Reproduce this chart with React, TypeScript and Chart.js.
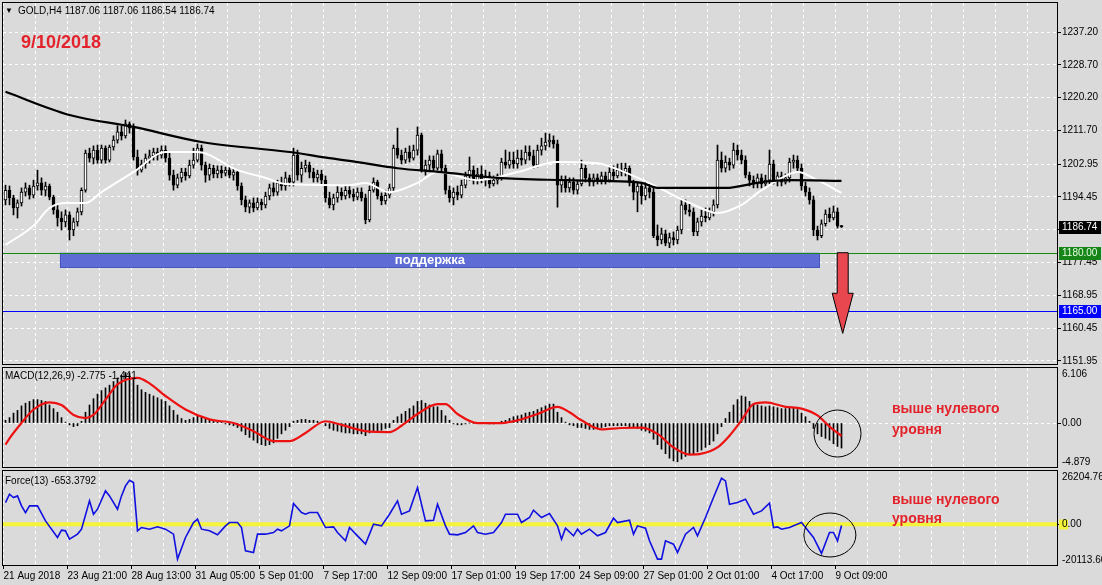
import React, { useEffect, useRef } from "react";
import { Chart, registerables } from "chart.js";

Chart.register(...registerables);

// ---------------- data ----------------
const SYMBOL = "GOLD,H4";
const LAST_OHLC = [1187.06, 1187.06, 1186.54, 1186.74];
const DATE_NOTE = "9/10/2018";
const NOTE_LINES = ["выше нулевого", "уровня"];
const SUPPORT_LABEL = "поддержка";

const TIME_LABELS = [
  "21 Aug 2018", "23 Aug 21:00", "28 Aug 13:00", "31 Aug 05:00", "5 Sep 01:00",
  "7 Sep 17:00", "12 Sep 09:00", "17 Sep 01:00", "19 Sep 17:00", "24 Sep 09:00",
  "27 Sep 01:00", "2 Oct 01:00", "4 Oct 17:00", "9 Oct 09:00",
];

const PRICE_TICKS = [1237.2, 1228.7, 1220.2, 1211.7, 1202.95, 1194.45, 1185.95, 1177.45, 1168.95, 1160.45, 1151.95];

const OPEN = [
  1193.7,1196.2,1194.2,1191.6,1192.9,1195.7,1196.8,1194.9,
  1197.3,1198.1,1196.2,1197.3,1194.4,1191.1,1189.0,1188.0,
  1189.8,1185.9,1188.0,1190.6,1196.2,1205.8,1204.5,1206.6,
  1204.0,1207.1,1204.0,1207.4,1209.2,1211.3,1210.3,1213.4,
  1212.3,1204.8,1201.4,1203.0,1204.5,1205.1,1206.1,1205.3,
  1206.6,1204.5,1200.1,1197.5,1199.4,1200.9,1199.9,1202.7,
  1204.0,1207.1,1202.7,1200.1,1201.9,1200.4,1201.4,1200.6,
  1201.4,1200.1,1200.9,1197.3,1193.7,1191.8,1192.9,1191.6,
  1193.1,1192.4,1194.7,1196.8,1195.7,1198.1,1197.3,1199.4,
  1198.3,1205.3,1200.1,1201.9,1202.7,1200.9,1199.4,1200.4,
  1198.8,1194.2,1192.4,1194.2,1195.7,1194.7,1196.2,1195.2,
  1194.4,1195.7,1194.2,1188.5,1196.2,1198.3,1194.7,1193.4,
  1194.9,1196.8,1207.1,1205.3,1204.0,1206.1,1204.5,1206.6,
  1210.5,1201.4,1202.7,1204.0,1201.9,1205.6,1201.9,1196.2,
  1194.2,1195.7,1194.9,1197.5,1199.9,1201.4,1198.8,1200.4,
  1198.8,1199.9,1197.8,1198.8,1199.9,1203.5,1202.7,1204.0,
  1203.0,1204.5,1204.0,1206.1,1205.1,1202.7,1206.6,1207.7,
  1208.7,1209.2,1208.2,1197.5,1198.8,1196.8,1198.3,1196.2,
  1197.8,1201.9,1199.4,1198.3,1199.4,1198.8,1199.9,1198.8,
  1200.9,1199.9,1201.4,1200.9,1201.9,1198.1,1195.7,1197.3,
  1194.7,1196.8,1195.7,1184.4,1183.3,1184.9,1182.5,1183.9,
  1183.3,1185.9,1192.4,1191.1,1190.6,1185.4,1188.0,1189.5,
  1189.0,1190.6,1192.4,1204.0,1201.9,1203.5,1202.7,1206.6,
  1205.3,1204.0,1200.1,1198.8,1197.8,1199.4,1197.8,1198.8,
  1203.0,1198.8,1199.9,1198.3,1199.4,1203.5,1204.0,1201.9,
  1197.3,1195.7,1193.7,1185.9,1184.4,1187.5,1190.0,1189.0,
  1190.6,1187.06,
];

const HIGH = [
  1197.5,1197.3,1194.9,1193.7,1196.8,1198.1,1197.5,1198.8,
  1201.4,1199.4,1198.3,1197.8,1194.9,1192.4,1190.6,1191.1,
  1190.6,1189.0,1191.6,1196.8,1206.6,1207.1,1207.7,1207.9,
  1207.9,1207.7,1207.9,1210.3,1212.9,1212.9,1214.4,1213.9,
  1213.4,1206.6,1204.0,1205.6,1206.6,1207.1,1207.1,1207.7,
  1207.7,1206.1,1201.4,1200.4,1201.9,1201.9,1204.0,1207.1,
  1208.2,1207.9,1203.5,1203.0,1202.7,1202.5,1202.5,1202.2,
  1202.5,1201.9,1201.4,1198.1,1194.7,1193.7,1194.2,1194.2,
  1193.9,1195.7,1197.8,1198.1,1198.8,1199.6,1200.9,1200.1,
  1207.1,1206.6,1203.5,1204.0,1203.5,1201.9,1201.4,1201.4,
  1199.9,1195.7,1195.2,1197.3,1196.8,1197.5,1197.3,1196.5,
  1196.8,1196.8,1195.2,1197.3,1199.4,1198.8,1195.5,1196.2,
  1197.8,1207.9,1212.3,1206.6,1207.1,1207.7,1207.9,1212.6,
  1211.0,1204.0,1205.1,1205.1,1206.6,1206.6,1202.7,1197.3,
  1196.8,1197.3,1198.8,1200.9,1204.8,1202.5,1201.9,1202.5,
  1201.4,1200.9,1199.9,1200.4,1204.5,1206.6,1206.1,1206.1,
  1206.6,1206.6,1207.7,1207.7,1206.6,1207.9,1209.7,1211.0,
  1210.8,1210.3,1209.2,1199.9,1199.9,1199.4,1199.4,1198.8,
  1204.0,1202.7,1200.4,1200.4,1200.4,1200.9,1200.9,1202.5,
  1202.5,1203.0,1203.2,1203.2,1202.5,1198.8,1198.3,1197.8,
  1198.3,1197.8,1196.8,1187.2,1186.4,1185.9,1185.1,1185.4,
  1186.9,1193.7,1193.7,1192.6,1191.6,1189.0,1191.1,1191.6,
  1191.6,1193.7,1207.9,1206.1,1205.1,1204.5,1208.4,1207.9,
  1206.6,1205.1,1200.9,1199.9,1200.4,1200.4,1200.1,1206.6,
  1204.0,1200.9,1200.9,1200.4,1204.5,1205.3,1205.1,1203.0,
  1198.3,1196.8,1194.7,1186.9,1188.5,1191.1,1191.6,1192.1,
  1191.6,1187.06,
];

const LOW = [
  1192.4,1192.4,1189.8,1189.0,1192.1,1194.7,1193.9,1194.2,
  1196.2,1194.9,1194.7,1193.7,1190.0,1186.9,1185.9,1186.7,
  1183.3,1184.4,1186.9,1189.8,1195.7,1203.5,1203.0,1203.2,
  1203.2,1203.2,1203.5,1206.6,1208.4,1209.2,1209.7,1211.0,
  1204.0,1200.1,1200.9,1201.9,1203.2,1204.0,1204.0,1204.5,
  1203.5,1198.8,1196.2,1196.8,1198.3,1198.8,1199.4,1201.9,
  1203.5,1201.4,1198.3,1198.8,1199.4,1199.4,1199.4,1199.9,
  1199.4,1198.8,1196.2,1192.4,1190.6,1190.3,1190.6,1191.1,
  1191.1,1191.6,1193.7,1194.7,1194.9,1196.2,1196.2,1197.3,
  1197.3,1198.8,1198.3,1200.9,1199.4,1198.3,1198.3,1197.8,
  1193.1,1191.6,1191.1,1193.1,1193.7,1193.9,1194.2,1193.4,
  1193.7,1193.4,1187.5,1188.0,1195.7,1193.9,1192.4,1192.6,
  1194.2,1195.7,1204.5,1203.0,1203.2,1203.5,1204.0,1205.3,
  1200.9,1200.1,1201.4,1200.9,1201.4,1200.9,1195.2,1193.1,
  1192.4,1193.7,1194.2,1196.8,1198.8,1197.8,1197.8,1198.1,
  1197.3,1196.8,1197.3,1197.8,1198.8,1201.9,1201.9,1201.9,
  1201.9,1202.7,1203.0,1204.0,1201.9,1202.2,1205.3,1206.6,
  1207.4,1207.1,1191.8,1195.7,1195.7,1195.7,1195.2,1195.2,
  1197.3,1198.3,1197.3,1197.3,1197.8,1197.8,1197.8,1198.3,
  1198.8,1199.4,1199.9,1199.9,1197.3,1193.7,1190.6,1192.6,
  1193.7,1194.2,1183.9,1181.8,1182.3,1181.8,1181.3,1182.0,
  1182.3,1184.9,1190.0,1189.5,1184.4,1184.4,1186.9,1188.0,
  1188.5,1189.5,1191.6,1200.9,1200.9,1201.4,1201.9,1204.0,
  1203.0,1199.4,1197.3,1196.8,1196.8,1196.8,1197.3,1197.8,
  1197.8,1197.3,1197.3,1197.8,1198.3,1201.9,1200.9,1196.2,
  1194.7,1192.6,1184.4,1183.3,1183.9,1186.9,1188.0,1188.5,
  1186.4,1186.54,
];

const CLOSE = [
  1196.2,1194.2,1191.6,1192.9,1195.7,1196.8,1194.9,1197.3,
  1198.1,1196.2,1197.3,1194.4,1191.1,1189.0,1188.0,1189.8,
  1185.9,1188.0,1190.6,1196.2,1205.8,1204.5,1206.6,1204.0,
  1207.1,1204.0,1207.4,1209.2,1211.3,1210.3,1213.4,1212.3,
  1204.8,1201.4,1203.0,1204.5,1205.1,1206.1,1205.3,1206.6,
  1204.5,1200.1,1197.5,1199.4,1200.9,1199.9,1202.7,1204.0,
  1207.1,1202.7,1200.1,1201.9,1200.4,1201.4,1200.6,1201.4,
  1200.1,1200.9,1197.3,1193.7,1191.8,1192.9,1191.6,1193.1,
  1192.4,1194.7,1196.8,1195.7,1198.1,1197.3,1199.4,1198.3,
  1205.3,1200.1,1201.9,1202.7,1200.9,1199.4,1200.4,1198.8,
  1194.2,1192.4,1194.2,1195.7,1194.7,1196.2,1195.2,1194.4,
  1195.7,1194.2,1188.5,1196.2,1198.3,1194.7,1193.4,1194.9,
  1196.8,1207.1,1205.3,1204.0,1206.1,1204.5,1206.6,1210.5,
  1201.4,1202.7,1204.0,1201.9,1205.6,1201.9,1196.2,1194.2,
  1195.7,1194.9,1197.5,1199.9,1201.4,1198.8,1200.4,1198.8,
  1199.9,1197.8,1198.8,1199.9,1203.5,1202.7,1204.0,1203.0,
  1204.5,1204.0,1206.1,1205.1,1202.7,1206.6,1207.7,1208.7,
  1209.2,1208.2,1197.5,1198.8,1196.8,1198.3,1196.2,1197.8,
  1201.9,1199.4,1198.3,1199.4,1198.8,1199.9,1198.8,1200.9,
  1199.9,1201.4,1200.9,1201.9,1198.1,1195.7,1197.3,1194.7,
  1196.8,1195.7,1184.4,1183.3,1184.9,1182.5,1183.9,1183.3,
  1185.9,1192.4,1191.1,1190.6,1185.4,1188.0,1189.5,1189.0,
  1190.6,1192.4,1204.0,1201.9,1203.5,1202.7,1206.6,1205.3,
  1204.0,1200.1,1198.8,1197.8,1199.4,1197.8,1198.8,1203.0,
  1198.8,1199.9,1198.3,1199.4,1203.5,1204.0,1201.9,1197.3,
  1195.7,1193.7,1185.9,1184.4,1187.5,1190.0,1189.0,1190.6,
  1186.9,1186.74,
];

// slow moving average (black) – bar index / value
const MA_SLOW_BARS = [0, 16, 32, 49, 71, 81, 86, 98, 109, 123, 140, 149, 159, 163, 180, 189, 196, 209];
const MA_SLOW = [1221.7, 1215.7, 1212.6, 1208.7, 1206.1, 1204.5, 1203.8, 1201.9, 1200.9, 1199.4, 1198.8, 1198.6, 1198.1, 1196.8, 1196.8, 1198.3, 1198.8, 1198.6];

// fast moving average (white)
const MA_FAST_BARS = [0, 7, 11, 15, 20, 24, 32, 40, 48, 58, 65, 70, 86, 90, 96, 103, 108, 118, 128, 138, 148, 154, 163, 171, 178, 184, 188, 191, 194, 198, 203, 209];
const MA_FAST = [1182.0, 1187.0, 1191.6, 1192.9, 1192.9, 1195.7, 1200.9, 1206.1, 1206.1, 1201.4, 1199.4, 1197.8, 1197.5, 1198.1, 1195.7, 1198.1, 1200.9, 1198.8, 1200.9, 1203.5, 1203.2, 1201.2, 1197.0, 1192.9, 1190.3, 1192.4, 1195.5, 1197.5, 1199.4, 1200.9, 1198.8, 1195.5];

// MACD(12,26,9) main values (histogram)
const MACD_HIST = [
  0.3,0.6,1.1,1.4,1.9,2.2,2.4,2.6,
  2.6,2.5,2.4,2.0,1.6,1.2,0.6,0.1,
  -0.2,-0.4,-0.3,0.2,1.2,2.0,2.7,3.2,
  3.6,3.9,4.2,4.6,5.0,5.3,5.6,5.5,
  4.9,4.2,3.7,3.4,3.2,3.0,2.8,2.6,
  2.4,1.9,1.4,0.9,0.5,0.3,0.4,0.6,
  0.8,0.7,0.5,0.3,0.2,0.1,0.1,-0.1,
  -0.2,-0.3,-0.5,-0.9,-1.3,-1.6,-1.9,-2.2,
  -2.4,-2.5,-2.4,-2.2,-1.7,-1.2,-0.8,-0.4,
  0.2,0.3,0.4,0.4,0.3,0.3,0.2,0.1,
  -0.3,-0.6,-0.8,-0.9,-1.0,-1.1,-1.1,-1.2,
  -1.2,-1.2,-1.4,-1.1,-0.9,-0.9,-0.8,-0.6,
  -0.5,0.3,0.7,1.0,1.3,1.6,1.9,2.4,
  2.5,2.2,2.0,1.8,1.8,1.4,0.8,0.3,
  -0.1,-0.2,-0.2,-0.1,0.0,-0.05,0.05,0.0,
  0.0,-0.1,-0.1,0.0,0.2,0.3,0.5,0.7,
  0.8,0.9,1.1,1.2,1.3,1.5,1.7,1.9,
  2.1,2.1,1.2,0.6,0.1,-0.2,-0.3,-0.5,
  -0.5,-0.6,-0.7,-0.7,-0.6,-0.5,-0.4,-0.3,
  -0.3,-0.3,-0.3,-0.3,-0.4,-0.5,-0.6,-0.8,
  -0.9,-1.1,-1.8,-2.4,-2.9,-3.4,-3.9,-4.2,
  -4.3,-4.0,-3.7,-3.5,-3.4,-3.2,-3.0,-2.7,
  -2.4,-2.0,-1.2,-0.4,0.5,1.2,2.0,2.6,
  3.0,2.9,2.4,2.1,2.0,1.9,1.8,1.9,
  1.8,1.7,1.6,1.6,1.7,1.7,1.5,1.1,
  0.7,0.2,-0.6,-1.2,-1.5,-1.7,-1.9,-2.3,
  -2.6,-2.775,
];

// MACD signal line
const SIGNAL_BARS = [0,1,4,7,11,14,17,20,22,25,28,33,36,40,45,51,57,62,67,71,75,80,84,90,96,99,103,108,110,113,118,124,128,133,138,141,144,149,154,159,163,167,171,174,178,181,184,187,190,195,199,203,206,209];
const SIGNAL = [-2.4,-1.7,0.0,1.5,2.3,2.0,0.9,0.55,0.9,2.6,4.3,5.0,4.4,3.0,1.5,0.4,0.0,-0.9,-2.0,-2.0,-1.1,0.2,-0.2,-0.9,-1.0,-0.3,1.0,2.1,2.1,1.0,0.0,0.0,0.3,1.0,1.8,1.2,0.3,-0.7,-0.55,-0.5,-1.2,-2.7,-3.5,-3.4,-2.7,-1.4,0.3,2.1,2.3,1.8,1.6,0.85,-0.4,-1.441];

// Force(13)
const FORCE_BARS = [
  0,1,2,3,4,5,6,8,10,13, 14,15,16,18,19,21,22,23,25,26,
  28,29,30,31,32,33,34,36,38,40, 42,43,45,47,48,49,51,53,55,56,
  58,59,60,62,63,65,67,68,69,71, 72,74,75,76,78,80,82,83,85,86,
  88,90,92,94,96,98,99,101,103,105, 107,108,110,111,113,115,117,118,120,122,
  124,125,128,129,131,132,134,136,138,139, 140,142,143,144,146,148,150,152,153,156,
  157,158,160,161,163,164,165,167,168,170, 172,173,175,177,179,180,181,183,185,187,
  189,191,192,193,194,196,197,199,200,202, 204,206,207,208,209,
];
const FORCE = [
  10660,14760,13100,13940,9000,5700,9000,9000,1640,-6560,
  -2950,-3280,-7380,-4900,-2460,11480,4900,7380,16400,13940,
  7380,13940,18860,21650,20500,-3280,-1640,-2460,-1310,-2460,
  -4920,-17220,-6560,820,2460,-2460,-3280,-5250,-820,820,
  820,-1640,-13120,-13940,-4920,-4920,-4100,-2460,-3280,-820,
  10170,5740,4920,5740,5740,-1640,-1310,-4100,-8200,-1640,
  -5740,-9840,0,-820,4920,11480,4920,6560,18040,1640,
  1970,9840,-820,-4920,-5250,-4100,-820,-4100,-4920,-4100,
  820,4920,4920,820,3280,6890,3280,5250,-820,-7380,
  -1970,-5740,-2460,-4920,-2460,-5740,-4100,2950,820,1970,
  -4920,-820,-1970,-8200,-17220,-17220,-8200,-9840,-13940,-4920,
  -1640,-5740,3280,13120,22630,21320,9840,10660,12300,4920,
  6560,10330,-1640,-1310,-2460,-1640,-820,820,-1640,-6560,
  -14430,-4100,-4100,-8200,-653.3792,
];

const MACD_RANGE = [-4.879, 6.106];
const FORCE_RANGE = [-20113.6, 26204.76];
const PRICE_RANGE = [1151.167, 1244.715];
const LAST_PRICE = 1186.74;
const SUPPORT_LEVEL = 1180.0;
const TARGET_LEVEL = 1165.0;
const SUPPORT_ZONE = { fromBar: 13.6, toBar: 203.4, top: 1180.0, bottom: 1176.3, textBar: 106.1, textPrice: 1178.1 };
const ARROW = { bar: 209.3, top: 1180.0, neck: 1169.5, tip: 1159.1 };
const MACD_MARK = { bar: 208, value: -1.165 };
const FORCE_MARK = { bar: 206.1, value: -5332 };

// ---------------- layout / style ----------------
const FONT = '"Liberation Sans", Arial, sans-serif';
const BG = "#dadada";
const W = 1102;
const PLOT_LEFT = 3;
const AXIS_W = 45;
const BAR_PX = 4;
const X_MIN = -0.625;
const X_MAX = X_MIN + (W - PLOT_LEFT - AXIS_W) / BAR_PX;
const GRID_BARS = Array.from({ length: 33 }, (_, k) => k * 8 - 0.5);
const RED_TEXT = "#e3222b";

const basePlugins = { legend: { display: false }, tooltip: { enabled: false } };

function fixY(s: any) {
  s.width = AXIS_W;
  s.paddingTop = 0;
  s.paddingBottom = 0;
  s.paddingLeft = 0;
  s.paddingRight = 0;
}

function xScale(withLabels: boolean) {
  return {
    type: "linear",
    min: X_MIN,
    max: X_MAX,
    bounds: "data",
    offset: false,
    afterBuildTicks: (s: any) => {
      s.ticks = GRID_BARS.map((v) => ({ value: v }));
    },
    afterFit: (s: any) => {
      s.height = withLabels ? 20 : 0;
      s.paddingLeft = 0;
      s.paddingRight = 0;
      s.paddingTop = 0;
      s.paddingBottom = 0;
    },
    grid: {
      offset: false,
      color: "#ffffff",
      lineWidth: 1,
      drawTicks: withLabels,
      tickLength: 4,
      tickWidth: 1,
      tickBorderDash: [],
      tickColor: (c: any) =>
        c.index % 2 === 0 && c.index / 2 < TIME_LABELS.length ? "#000000" : "rgba(0,0,0,0)",
    },
    border: { display: false, dash: [3, 3] },
    ticks: {
      display: withLabels,
      autoSkip: false,
      maxRotation: 0,
      minRotation: 0,
      align: "start",
      padding: 1,
      color: "#000",
      font: { family: FONT, size: 10 },
      callback: (_v: any, i: number) => (i % 2 === 0 ? TIME_LABELS[i / 2] ?? "" : ""),
    },
  };
}

const framePlugin = {
  id: "frame",
  afterDraw(chart: any) {
    const { ctx, chartArea: a } = chart;
    ctx.save();
    ctx.strokeStyle = "#000";
    ctx.lineWidth = 1;
    ctx.strokeRect(a.left - 0.5, a.top - 0.5, a.right - a.left + 1, a.bottom - a.top + 1);
    ctx.restore();
  },
};

function sideLabelsPlugin(id: string, items: any[]) {
  return {
    id,
    afterDraw(chart: any) {
      const { ctx, chartArea: a, scales } = chart;
      const y = scales.y;
      ctx.save();
      ctx.font = `10px ${FONT}`;
      ctx.textBaseline = "middle";
      ctx.textAlign = "left";
      for (const it of items) {
        let py = 0;
        if (it.anchor === "top") py = a.top + 6.5;
        else if (it.anchor === "bottom") py = a.bottom - 4.5;
        else py = Math.round(y.getPixelForValue(it.value)) + 0.5;
        if (it.anchor === "middle") {
          ctx.strokeStyle = "#000";
          ctx.lineWidth = 1;
          ctx.beginPath();
          ctx.moveTo(a.right, py);
          ctx.lineTo(a.right + 4, py);
          ctx.stroke();
        }
        if (it.bg) {
          ctx.fillStyle = it.bg;
          ctx.fillRect(a.right + 2, py - 5, 9, 10);
        }
        ctx.fillStyle = "#000";
        ctx.fillText(it.text, a.right + 5, py);
      }
      ctx.restore();
    },
  };
}

function ellipsePlugin(id: string, mark: any, rx: number, ry: number) {
  return {
    id,
    afterDatasetsDraw(chart: any) {
      const { ctx, scales } = chart;
      const cx = scales.x.getPixelForValue(mark.bar);
      const cy = scales.y.getPixelForValue(mark.value);
      ctx.save();
      ctx.strokeStyle = "#000";
      ctx.lineWidth = 1;
      ctx.beginPath();
      ctx.ellipse(cx, cy, rx, ry, 0, 0, Math.PI * 2);
      ctx.stroke();
      ctx.restore();
    },
  };
}

const mainAnnotations = {
  id: "mainAnno",
  beforeDatasetsDraw(chart: any) {
    const { ctx, chartArea: a, scales } = chart;
    const { x, y } = scales;
    ctx.save();
    ctx.beginPath();
    ctx.rect(a.left, a.top, a.right - a.left, a.bottom - a.top);
    ctx.clip();
    const x0 = x.getPixelForValue(SUPPORT_ZONE.fromBar);
    const x1 = x.getPixelForValue(SUPPORT_ZONE.toBar);
    const y0 = y.getPixelForValue(SUPPORT_ZONE.top);
    const y1 = y.getPixelForValue(SUPPORT_ZONE.bottom);
    ctx.fillStyle = "#5d6dd5";
    ctx.fillRect(x0, y0, x1 - x0, y1 - y0);
    ctx.strokeStyle = "#4656bd";
    ctx.lineWidth = 1;
    ctx.strokeRect(Math.round(x0) + 0.5, Math.round(y0) + 0.5, Math.round(x1 - x0), Math.round(y1 - y0));
    ctx.fillStyle = "#ffffff";
    ctx.font = `bold 13px ${FONT}`;
    ctx.textAlign = "center";
    ctx.textBaseline = "middle";
    ctx.fillText(SUPPORT_LABEL, x.getPixelForValue(SUPPORT_ZONE.textBar), y.getPixelForValue(SUPPORT_ZONE.textPrice));
    const levels = [
      { v: SUPPORT_LEVEL, c: "#148a14" },
      { v: TARGET_LEVEL, c: "#0000ff" },
    ];
    for (const l of levels) {
      const py = Math.round(y.getPixelForValue(l.v)) + 0.5;
      ctx.strokeStyle = l.c;
      ctx.beginPath();
      ctx.moveTo(a.left, py);
      ctx.lineTo(a.right, py);
      ctx.stroke();
    }
    ctx.restore();
  },
  afterDatasetsDraw(chart: any) {
    const { ctx, scales } = chart;
    const { x, y } = scales;
    const cx = x.getPixelForValue(ARROW.bar);
    const yTop = y.getPixelForValue(ARROW.top);
    const yNeck = y.getPixelForValue(ARROW.neck);
    const yTip = y.getPixelForValue(ARROW.tip);
    const sw = 5.5;
    const hw = 10.5;
    ctx.save();
    ctx.beginPath();
    ctx.moveTo(cx - sw, yTop);
    ctx.lineTo(cx + sw, yTop);
    ctx.lineTo(cx + sw, yNeck);
    ctx.lineTo(cx + hw, yNeck);
    ctx.lineTo(cx, yTip);
    ctx.lineTo(cx - hw, yNeck);
    ctx.lineTo(cx - sw, yNeck);
    ctx.closePath();
    ctx.fillStyle = "#e8474f";
    ctx.fill();
    ctx.strokeStyle = "#000";
    ctx.lineWidth = 1;
    ctx.stroke();
    ctx.restore();
  },
  afterDraw(chart: any) {
    const { ctx, chartArea: a, scales } = chart;
    const y = scales.y;
    const tags = [
      { v: LAST_PRICE, bg: "#000000", fg: "#ffffff" },
      { v: SUPPORT_LEVEL, bg: "#178417", fg: "#e6ffe6" },
      { v: TARGET_LEVEL, bg: "#0000ff", fg: "#ffffff" },
    ];
    ctx.save();
    ctx.font = `10px ${FONT}`;
    ctx.textBaseline = "middle";
    ctx.textAlign = "left";
    for (const t of tags) {
      const py = Math.round(y.getPixelForValue(t.v));
      ctx.fillStyle = t.bg;
      ctx.fillRect(a.right + 2, py - 6, 42, 13);
      ctx.fillStyle = t.fg;
      ctx.fillText(t.v.toFixed(2), a.right + 5, py + 0.5);
    }
    ctx.restore();
  },
};

const forceZero = {
  id: "forceZero",
  beforeDatasetsDraw(chart: any) {
    const { ctx, chartArea: a, scales } = chart;
    const py = scales.y.getPixelForValue(0);
    ctx.save();
    ctx.strokeStyle = "#f4f43a";
    ctx.lineWidth = 4;
    ctx.beginPath();
    ctx.moveTo(a.left, py);
    ctx.lineTo(a.right, py);
    ctx.stroke();
    ctx.restore();
  },
};

function mainConfig(): any {
  return {
    type: "bar",
    data: {
      datasets: [
        {
          type: "line",
          label: "MA slow",
          data: MA_SLOW_BARS.map((b, k) => ({ x: b, y: MA_SLOW[k] })),
          borderColor: "#000000",
          borderWidth: 2.2,
          pointRadius: 0,
          cubicInterpolationMode: "monotone",
          order: 0,
        },
        {
          type: "line",
          label: "MA fast",
          data: MA_FAST_BARS.map((b, k) => ({ x: b, y: MA_FAST[k] })),
          borderColor: "#ffffff",
          borderWidth: 2,
          pointRadius: 0,
          cubicInterpolationMode: "monotone",
          order: 0,
        },
        {
          type: "bar",
          label: "body",
          data: OPEN.map((o, i) => ({ x: i, y: [o, CLOSE[i]] })),
          backgroundColor: OPEN.map((o, i) => (CLOSE[i] >= o ? "#ffffff" : "#000000")),
          borderColor: "#000000",
          borderWidth: 1,
          borderSkipped: false,
          barThickness: 3,
          grouped: false,
          order: 1,
        },
        {
          type: "bar",
          label: "wick",
          data: LOW.map((l, i) => ({ x: i, y: [l, HIGH[i]] })),
          backgroundColor: "#000000",
          barThickness: 1,
          grouped: false,
          order: 2,
        },
      ],
    },
    options: {
      responsive: false,
      animation: false,
      devicePixelRatio: 1,
      events: [],
      layout: { padding: { left: PLOT_LEFT, right: 0, top: 3, bottom: 2 } },
      plugins: basePlugins,
      scales: {
        x: xScale(false),
        y: {
          type: "linear",
          position: "right",
          min: PRICE_RANGE[0],
          max: PRICE_RANGE[1],
          bounds: "data",
          beginAtZero: false,
          afterBuildTicks: (s: any) => {
            s.ticks = PRICE_TICKS.map((v) => ({ value: v }));
          },
          afterFit: fixY,
          grid: { color: "#ffffff", drawTicks: true, tickLength: 4, tickColor: "#000", tickWidth: 1, tickBorderDash: [] },
          border: { display: false, dash: [3, 3] },
          ticks: {
            autoSkip: false,
            padding: 1,
            color: "#000",
            font: { family: FONT, size: 10 },
            callback: (v: any) => Number(v).toFixed(2),
          },
        },
      },
    },
    plugins: [mainAnnotations, framePlugin],
  };
}

function macdConfig(): any {
  return {
    type: "bar",
    data: {
      datasets: [
        {
          type: "line",
          label: "Signal",
          data: SIGNAL_BARS.map((b, k) => ({ x: b, y: SIGNAL[k] })),
          borderColor: "#ee1111",
          borderWidth: 2.2,
          pointRadius: 0,
          cubicInterpolationMode: "monotone",
          order: 0,
        },
        {
          type: "bar",
          label: "MACD",
          data: MACD_HIST.map((v, i) => ({ x: i, y: v })),
          backgroundColor: "#000000",
          barThickness: 1,
          grouped: false,
          order: 1,
        },
      ],
    },
    options: {
      responsive: false,
      animation: false,
      devicePixelRatio: 1,
      events: [],
      layout: { padding: { left: PLOT_LEFT, right: 0, top: 2, bottom: 3 } },
      plugins: basePlugins,
      scales: {
        x: xScale(false),
        y: {
          type: "linear",
          position: "right",
          min: MACD_RANGE[0],
          max: MACD_RANGE[1],
          bounds: "data",
          beginAtZero: false,
          afterBuildTicks: (s: any) => {
            s.ticks = [{ value: 0 }];
          },
          afterFit: fixY,
          grid: { color: "#ffffff", drawTicks: false },
          border: { display: false, dash: [3, 3] },
          ticks: { display: false },
        },
      },
    },
    plugins: [
      framePlugin,
      sideLabelsPlugin("macdLabels", [
        { anchor: "top", text: MACD_RANGE[1].toFixed(3) },
        { anchor: "middle", value: 0, text: "0.00" },
        { anchor: "bottom", text: MACD_RANGE[0].toFixed(3) },
      ]),
      ellipsePlugin("macdMark", MACD_MARK, 23.5, 23.5),
    ],
  };
}

function forceConfig(): any {
  return {
    type: "line",
    data: {
      datasets: [
        {
          label: "Force",
          data: FORCE_BARS.map((b, k) => ({ x: b, y: FORCE[k] })),
          borderColor: "#1010e0",
          borderWidth: 1.6,
          pointRadius: 0,
          tension: 0,
        },
      ],
    },
    options: {
      responsive: false,
      animation: false,
      devicePixelRatio: 1,
      events: [],
      layout: { padding: { left: PLOT_LEFT, right: 0, top: 1, bottom: 0 } },
      plugins: basePlugins,
      scales: {
        x: xScale(true),
        y: {
          type: "linear",
          position: "right",
          min: FORCE_RANGE[0],
          max: FORCE_RANGE[1],
          bounds: "data",
          beginAtZero: false,
          afterFit: fixY,
          grid: { display: false, drawTicks: false },
          border: { display: false },
          ticks: { display: false },
        },
      },
    },
    plugins: [
      forceZero,
      framePlugin,
      sideLabelsPlugin("forceLabels", [
        { anchor: "top", text: FORCE_RANGE[1].toFixed(2) },
        { anchor: "middle", value: 0, text: "0.00", bg: "#f4f43a" },
        { anchor: "bottom", text: FORCE_RANGE[0].toFixed(2) },
      ]),
      ellipsePlugin("forceMark", FORCE_MARK, 26, 22),
    ],
  };
}

const textBase: React.CSSProperties = {
  position: "absolute",
  whiteSpace: "nowrap",
  fontFamily: FONT,
  color: "#000",
};

export default function App() {
  const mainRef = useRef<HTMLCanvasElement>(null);
  const macdRef = useRef<HTMLCanvasElement>(null);
  const forceRef = useRef<HTMLCanvasElement>(null);

  useEffect(() => {
    const charts: Chart[] = [];
    if (mainRef.current) charts.push(new Chart(mainRef.current, mainConfig()));
    if (macdRef.current) charts.push(new Chart(macdRef.current, macdConfig()));
    if (forceRef.current) charts.push(new Chart(forceRef.current, forceConfig()));
    return () => charts.forEach((c) => c.destroy());
  }, []);

  const title = `${SYMBOL}  ${LAST_OHLC.map((v) => v.toFixed(2)).join(" ")}`;
  const macdTitle = `MACD(12,26,9) ${MACD_HIST[MACD_HIST.length - 1].toFixed(3)} ${SIGNAL[SIGNAL.length - 1].toFixed(3)}`;
  const forceTitle = `Force(13) ${FORCE[FORCE.length - 1].toFixed(4)}`;
  const note: React.CSSProperties = { ...textBase, color: RED_TEXT, fontWeight: "bold", fontSize: 14, lineHeight: "16px" };

  return (
    <div style={{ position: "fixed", left: 0, top: 0, width: W, height: 585, background: BG, overflow: "hidden" }}>
      <canvas ref={mainRef} width={W} height={366} style={{ position: "absolute", left: 0, top: 0 }} />
      <canvas ref={macdRef} width={W} height={104} style={{ position: "absolute", left: 0, top: 366 }} />
      <canvas ref={forceRef} width={W} height={115} style={{ position: "absolute", left: 0, top: 470 }} />

      <div style={{ ...textBase, left: 5, top: 5, fontSize: 8, lineHeight: "12px" }}>▼</div>
      <div style={{ ...textBase, left: 18, top: 5, fontSize: 10, lineHeight: "12px" }}>{title}</div>
      <div style={{ ...textBase, left: 21, top: 33, fontSize: 18, lineHeight: "18px", fontWeight: "bold", color: RED_TEXT }}>{DATE_NOTE}</div>

      <div style={{ ...textBase, left: 5, top: 370, fontSize: 10, lineHeight: "12px" }}>{macdTitle}</div>
      <div style={{ ...textBase, left: 5, top: 475, fontSize: 10, lineHeight: "12px" }}>{forceTitle}</div>

      <div style={{ ...note, left: 892, top: 400 }}>{NOTE_LINES[0]}</div>
      <div style={{ ...note, left: 892, top: 421 }}>{NOTE_LINES[1]}</div>
      <div style={{ ...note, left: 892, top: 491 }}>{NOTE_LINES[0]}</div>
      <div style={{ ...note, left: 892, top: 510 }}>{NOTE_LINES[1]}</div>
    </div>
  );
}
